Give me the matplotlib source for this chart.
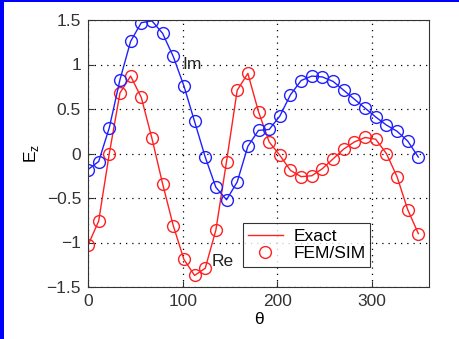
import numpy as np
import matplotlib.pyplot as plt
from matplotlib.patches import Rectangle

plt.rcParams["font.family"] = ["Liberation Sans", "DejaVu Sans"]

# sample angles in degrees (32 steps over a full turn)
theta = np.arange(32) * 11.25

ez_re = [-1.03, -0.76, 0.00, 0.68, 0.87, 0.63, 0.17, -0.34, -0.81, -1.19, -1.37,
         -1.29, -0.86, -0.09, 0.71, 0.90, 0.47, 0.13, -0.02, -0.19, -0.26, -0.25,
         -0.17, -0.06, 0.05, 0.13, 0.18, 0.16, 0.00, -0.26, -0.63, -0.90]
ez_im = [-0.18, -0.09, 0.29, 0.83, 1.26, 1.47, 1.49, 1.35, 1.09, 0.76, 0.36,
         -0.04, -0.38, -0.52, -0.32, 0.08, 0.26, 0.27, 0.42, 0.66, 0.82, 0.87,
         0.86, 0.81, 0.71, 0.61, 0.51, 0.41, 0.32, 0.25, 0.14, -0.04]

xticks = [0, 100, 200, 300]
yticks = [-1.5, -1, -0.5, 0, 0.5, 1, 1.5]
ytick_labels = ["\u22121.5", "\u22121", "\u22120.5", "0", "0.5", "1", "1.5"]

fs = 12.5

fig = plt.figure(figsize=(4.60, 3.39), dpi=100)
ax = fig.add_axes([88 / 460, 52 / 339, 341 / 460, 267 / 339])

# blue frame along the top and left edges
fig.patches.append(Rectangle((0, 0), 4 / 460, 1, transform=fig.transFigure,
                             facecolor="#0000ff", edgecolor="none"))
fig.patches.append(Rectangle((0, 1 - 2 / 339), 1, 2 / 339, transform=fig.transFigure,
                             facecolor="#0000ff", edgecolor="none"))

ax.plot(theta, ez_re, "-", color="#ff2020", lw=1.0, label="Exact")
ax.plot(theta, ez_re, "o", color="#ff2020", mfc="none", ms=8.5, mew=1.0, label="FEM/SIM")
ax.plot(theta, ez_im, "-", color="#2020ff", lw=1.0)
ax.plot(theta, ez_im, "o", color="#2020ff", mfc="none", ms=8.5, mew=1.0)

ax.set_xlim(0, 360)
ax.set_ylim(-1.5, 1.5)
ax.set_xticks(xticks)
ax.set_yticks(yticks)
ax.set_yticklabels(ytick_labels)
ax.tick_params(direction="in", labelsize=fs, colors="#333333", length=4, pad=5)
ax.grid(True, linestyle=(0, (1, 4)), color="black", linewidth=0.9)
for s in ax.spines.values():
    s.set_color("#333333")

ax.text(100, 1.0, "Im", fontsize=fs, va="center", ha="left", color="#222222")
ax.text(131, -1.21, "Re", fontsize=fs, va="center", ha="left", color="#222222")

ax.set_xlabel("\u03b8", fontsize=fs, labelpad=2)
ax.set_ylabel("E$_\\mathregular{z}$", fontsize=fs, labelpad=4)

leg = ax.legend(loc="lower left", bbox_to_anchor=(0.454, 0.076), fontsize=fs,
                frameon=True, fancybox=False, handlelength=2.0, borderpad=0.3,
                labelspacing=0.15, handletextpad=0.6, borderaxespad=0)
leg.get_frame().set_edgecolor("black")
leg.get_frame().set_linewidth(0.8)

fig.savefig("out.png", dpi=100)
